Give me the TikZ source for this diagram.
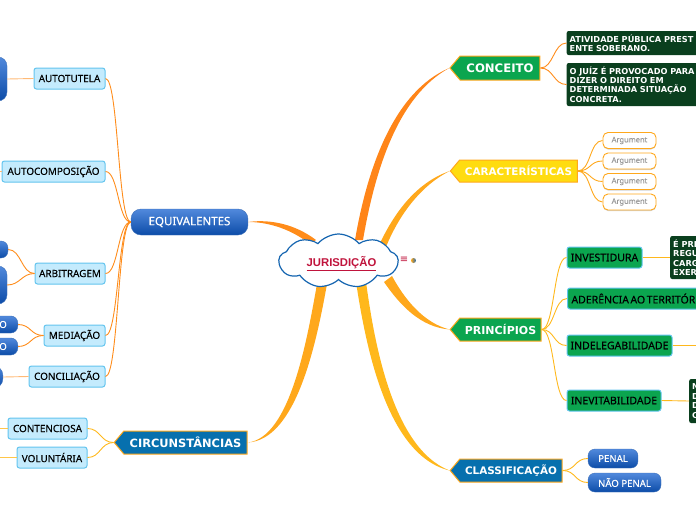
\documentclass[tikz,border=0pt]{standalone}
\usepackage{fontspec}
\setmainfont[FakeBold=0.25]{Noto Sans}
\newfontfamily\boldFace{DejaVu Sans}
\newfontfamily\rootFace{Liberation Sans}
\usepackage{xcolor}
\definecolor{cloudBlue}{HTML}{1565B0}
\definecolor{titleRed}{HTML}{C0143C}
\definecolor{hubGreen}{HTML}{0BA54F}
\definecolor{hubYellow}{HTML}{FFDC10}
\definecolor{hubBlue}{HTML}{0770AE}
\definecolor{hubEdge}{HTML}{FFA81C}
\definecolor{darkGreen}{HTML}{0A3F1E}
\definecolor{leafFill}{HTML}{C4EBFD}
\definecolor{leafEdge}{HTML}{62C4EE}
\definecolor{pillTop}{HTML}{5189DC}
\definecolor{pillBottom}{HTML}{0C4CA8}
\definecolor{linkOrange}{HTML}{FF8C1A}
\definecolor{linkAmber}{HTML}{FFB81C}
\usetikzlibrary{shapes.symbols, shadows, positioning, backgrounds}

\begin{document}
\begin{tikzpicture}[
    x=1pt, y=-1pt,
    signalHub/.style={
        signal,
        signal to=west,
        signal from=nowhere,
        signal pointer angle=100,
        draw=hubEdge,
        fill=#1,
        line width=1pt,
        text=white,
        inner sep=0pt,
        font=\boldFace\bfseries\fontsize{10.4}{13}\selectfont
    },
    leafBox/.style={
        rectangle,
        rounded corners=2.5pt,
        draw=leafEdge,
        fill=leafFill,
        line width=1pt,
        inner sep=0pt,
        minimum height=21pt,
        font=\fontsize{9.9}{11}\selectfont
    },
    greenBox/.style={
        rectangle,
        rounded corners=2.5pt,
        draw=leafEdge,
        fill=hubGreen,
        line width=1pt,
        inner sep=0pt,
        minimum height=21pt,
        font=\fontsize{10.5}{12}\selectfont
    },
    pill/.style={
        rectangle,
        rounded corners=7pt,
        draw=pillBottom!80,
        top color=pillTop,
        bottom color=pillBottom,
        text=white,
        inner sep=0pt,
        font=\fontsize{9.6}{11}\selectfont
    },
    noteBox/.style={
        rectangle,
        rounded corners=2pt,
        fill=darkGreen,
        text=white,
        inner sep=0pt,
        align=left,
        font=\boldFace\bfseries\fontsize{8.2}{9.4}\selectfont
    },
    argBox/.style={
        rectangle,
        rounded corners=5pt,
        draw=hubEdge,
        fill=white,
        line width=0.9pt,
        minimum width=53pt,
        minimum height=16pt,
        inner sep=0pt,
        text=black!40,
        drop shadow={opacity=0.35, shadow xshift=0pt, shadow yshift=-1pt},
        font=\fontsize{7.5}{9}\selectfont
    },
    thinLink/.style={
        line width=0.9pt,
        color=#1
    },
    thinLink/.default=linkOrange,
    linkTo/.style={out=0, in=180, distance=13pt},
    linkBack/.style={out=180, in=0, distance=13pt},
    bigBranch/.style={
        fill=#1,
        draw=none
    }
]
\clip (0,0) rectangle (696,520);

% Centre
\node[cloud, cloud puffs=9, cloud puff arc=100, aspect=2.2, draw=cloudBlue, fill=white,
      line width=1.2pt, minimum width=119pt, minimum height=54pt, inner sep=0pt] (root) at (338.5,261) {};
\node[text=titleRed, font=\rootFace\bfseries\fontsize{11.3}{13}\selectfont] (rootLabel) at (341.5,263.5) {\underline{JURISDIÇÃO}};
\node[text=titleRed, inner sep=0pt, font=\boldFace\fontsize{10}{10}\selectfont] (rootNote) at (404,260) {≡};
\node[circle, inner sep=0pt, minimum size=5pt, left color=hubEdge, right color=cloudBlue] (rootGlobe) at (413.5,260.5) {};

% Main branches
\node[signalHub=hubGreen, minimum width=90pt, minimum height=24pt, font=\boldFace\bfseries\fontsize{11.7}{14}\selectfont] (concept) at (500,68) {CONCEITO};
\node[signalHub=hubYellow, minimum width=127pt, minimum height=22pt] (features) at (518.5,171) {CARACTERÍSTICAS};
\node[signalHub=hubGreen, minimum width=91pt, minimum height=23pt, font=\boldFace\bfseries\fontsize{11}{13}\selectfont] (principles) at (500.5,329.5) {PRINCÍPIOS};
\node[signalHub=hubBlue, minimum width=112pt, minimum height=23pt] (classes) at (511,470.5) {CLASSIFICAÇÃO};
\node[signalHub=hubBlue, minimum width=133pt, minimum height=23pt, font=\boldFace\bfseries\fontsize{11.4}{13}\selectfont] (circs) at (185.5,442.5) {CIRCUNSTÂNCIAS};
\node[pill, minimum width=117pt, minimum height=26pt, rounded corners=10pt, font=\fontsize{11.5}{13}\selectfont] (equiv) at (189.5,222) {EQUIVALENTES};

% Equivalentes
\node[leafBox, minimum width=71pt] (selfHelp) at (69.5,78.5) {AUTOTUTELA};
\node[leafBox, minimum width=103pt] (selfComp) at (53.5,171.5) {AUTOCOMPOSIÇÃO};
\node[leafBox, minimum width=70pt] (arbitr) at (70,273.5) {ARBITRAGEM};
\node[leafBox, minimum width=61pt] (mediat) at (74.5,335.5) {MEDIAÇÃO};
\node[leafBox, minimum width=76pt] (concil) at (67,376.5) {CONCILIAÇÃO};
\node[pill, minimum width=40pt, minimum height=44pt, rounded corners=9pt] (selfHelpPill) at (-13,79) {};
\node[pill, minimum width=30pt, minimum height=17pt] (arbitrA) at (-7,249.5) {};
\node[pill, minimum width=40pt, minimum height=38pt, rounded corners=9pt] (arbitrB) at (-13,285) {};
\node[pill, text width=40pt, align=right, minimum height=17pt, anchor=east] (mediatA) at (18,324.5) {O\hspace*{11pt}};
\node[pill, text width=40pt, align=right, minimum height=17pt, anchor=east] (mediatB) at (18,346.5) {O\hspace*{11pt}};
\node[pill, minimum width=40pt, minimum height=22pt, rounded corners=9pt, anchor=east] (concilPill) at (3,377) {};
\coordinate (selfCompEnd) at (-4,171.5);

% Circunstancias
\node[leafBox, minimum width=79pt] (contentious) at (47.5,428.5) {CONTENCIOSA};
\node[leafBox, minimum width=70pt] (voluntary) at (52,457.5) {VOLUNTÁRIA};
\coordinate (contEnd) at (-4,428.5);
\coordinate (volEnd) at (-4,457.5);

% Conceito
\node[noteBox, text width=137pt, minimum height=24pt, anchor=west] (noteA) at (566.5,43) {\hspace*{3pt}ATIVIDADE PÚBLICA PREST\\\hspace*{3pt}ENTE SOBERANO.};
\node[noteBox, text width=137pt, minimum height=43pt, anchor=west] (noteB) at (566.5,84.5) {\hspace*{3pt}O JUÍZ É PROVOCADO PARA\\\hspace*{3pt}DIZER O DIREITO EM\\\hspace*{3pt}DETERMINADA SITUAÇÃO\\\hspace*{3pt}CONCRETA.};

% Caracteristicas
\node[argBox] (argA) at (629.5,140.5) {Argument};
\node[argBox] (argB) at (629.5,161) {Argument};
\node[argBox] (argC) at (629.5,181.5) {Argument};
\node[argBox] (argD) at (629.5,202) {Argument};

% Principios
\node[greenBox, minimum width=75pt] (invest) at (604.5,257.5) {INVESTIDURA};
\node[greenBox, text width=140pt, anchor=west] (territory) at (567,298.5) {\hspace*{4pt}ADERÊNCIA\hspace{1.5pt}AO\hspace{1.5pt}TERRITÓR};
\node[greenBox, minimum width=105pt] (indeleg) at (619.5,345.5) {INDELEGABILIDADE};
\node[greenBox, minimum width=94pt] (inevit) at (614,400.5) {INEVITABILIDADE};
\node[noteBox, text width=40pt, minimum height=43pt, anchor=west] (noteC) at (670,257.5) {\hspace*{3pt}É PRE\\\hspace*{3pt}REGU\\\hspace*{3pt}CARG\\\hspace*{3pt}EXER};
\node[noteBox, text width=30pt, minimum height=44pt, anchor=west] (noteD) at (689,401) {\hspace*{3pt}N\\\hspace*{3pt}D\\\hspace*{3pt}D\\\hspace*{3pt}C};
\coordinate (indelegEnd) at (700,345.5);

% Classificacao
\node[pill, minimum width=50pt, minimum height=19pt] (penal) at (613,458.5) {PENAL};
\node[pill, minimum width=73pt, minimum height=19pt] (nonPenal) at (624.5,482.5) {NÃO PENAL};

% Connecting Lines
\begin{pgfonlayer}{background}
\fill[bigBranch={linkOrange!95!red}] (355,240) .. controls (367,170) and (393,92) .. (concept.west) .. controls (398,96) and (375,170) .. (363,240) -- cycle;
\fill[bigBranch=hubEdge] (376,252) .. controls (392,215) and (415,183) .. (features.west) .. controls (418,187) and (396,220) .. (384,252) -- cycle;
\fill[bigBranch=hubEdge] (384,282) .. controls (400,305) and (420,327) .. (principles.west) .. controls (424,323) and (405,300) .. (392,276) -- cycle;
\fill[bigBranch=linkAmber] (356,282) .. controls (365,340) and (385,455) .. (classes.west) .. controls (392,448) and (374,340) .. (366,282) -- cycle;
\fill[bigBranch=hubEdge] (317,284) .. controls (307,340) and (290,438) .. (circs.east) .. controls (296,440) and (316,345) .. (327,284) -- cycle;
\fill[bigBranch=linkOrange] (310,244) .. controls (292,230) and (270,222) .. (equiv.east) .. controls (270,219) and (295,224) .. (316,240) -- cycle;
\end{pgfonlayer}

\draw[thinLink] (concept.east) to[linkTo] (noteA.west);
\draw[thinLink] (concept.east) to[linkTo] (noteB.west);
\draw[thinLink=hubEdge] (features.east) to[linkTo] (argA.west);
\draw[thinLink=hubEdge] (features.east) to[linkTo] (argB.west);
\draw[thinLink=hubEdge] (features.east) to[linkTo] (argC.west);
\draw[thinLink=hubEdge] (features.east) to[linkTo] (argD.west);
\draw[thinLink=linkAmber] (principles.east) to[linkTo] (invest.west);
\draw[thinLink=linkAmber] (principles.east) to[linkTo] (territory.west);
\draw[thinLink=linkAmber] (principles.east) to[linkTo] (indeleg.west);
\draw[thinLink=linkAmber] (principles.east) to[linkTo] (inevit.west);
\draw[thinLink=linkAmber] (invest.east) -- (noteC.west);
\draw[thinLink=linkAmber] (indeleg.east) -- (indelegEnd);
\draw[thinLink=linkAmber] (inevit.east) -- (noteD.west);
\draw[thinLink=linkAmber] (classes.east) to[linkTo] (penal.west);
\draw[thinLink=linkAmber] (classes.east) to[linkTo] (nonPenal.west);
\draw[thinLink=linkAmber] (circs.west) to[linkBack] (contentious.east);
\draw[thinLink=linkAmber] (circs.west) to[linkBack] (voluntary.east);
\draw[thinLink=linkAmber!80] (contentious.west) -- (contEnd);
\draw[thinLink=linkAmber!80] (voluntary.west) -- (volEnd);
\draw[thinLink] (equiv.west) to[linkBack] (selfHelp.east);
\draw[thinLink] (equiv.west) to[linkBack] (selfComp.east);
\draw[thinLink] (equiv.west) to[linkBack] (arbitr.east);
\draw[thinLink] (equiv.west) to[linkBack] (mediat.east);
\draw[thinLink] (equiv.west) to[linkBack] (concil.east);
\draw[thinLink=linkOrange!60] (selfHelp.west) -- (selfHelpPill.east);
\draw[thinLink=linkOrange!60] (selfComp.west) -- (selfCompEnd);
\draw[thinLink] (arbitr.west) to[linkBack] (arbitrA.east);
\draw[thinLink] (arbitr.west) to[linkBack] (arbitrB.east);
\draw[thinLink] (mediat.west) to[linkBack] (mediatA.east);
\draw[thinLink] (mediat.west) to[linkBack] (mediatB.east);
\draw[thinLink=linkOrange!60] (concil.west) -- (concilPill.east);

\end{tikzpicture}
\end{document}
